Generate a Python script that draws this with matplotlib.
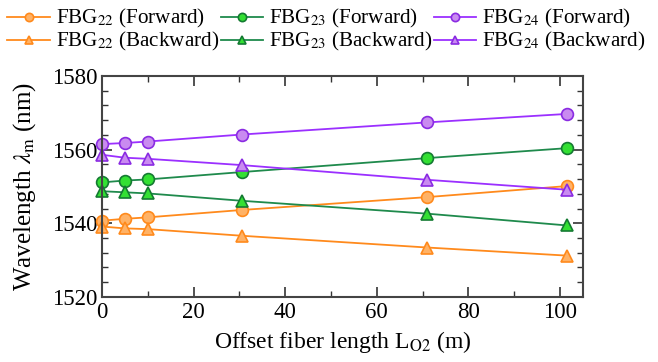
import matplotlib
matplotlib.use("Agg")
import matplotlib.pyplot as plt
from matplotlib.ticker import MultipleLocator

plt.rcParams['font.family'] = ['Liberation Serif', 'DejaVu Serif']
plt.rcParams['mathtext.fontset'] = 'stix'

# offset fiber length (m)
offset_len = [0, 5, 10, 30.5, 71, 101.5]

# centre wavelengths (nm)
fbg22_fwd = [1540.7, 1541.2, 1541.6, 1543.6, 1547.1, 1550.1]
fbg22_bwd = [1539.1, 1538.6, 1538.4, 1536.6, 1533.4, 1531.2]
fbg23_fwd = [1551.1, 1551.6, 1551.9, 1553.9, 1557.7, 1560.4]
fbg23_bwd = [1548.7, 1548.4, 1548.1, 1546.1, 1542.6, 1539.4]
fbg24_fwd = [1561.5, 1561.8, 1562.2, 1564.1, 1567.4, 1569.7]
fbg24_bwd = [1558.6, 1557.8, 1557.5, 1555.8, 1551.8, 1549.1]

labels = ['FBG$_{22}$ (Forward)', 'FBG$_{22}$ (Backward)',
          'FBG$_{23}$ (Forward)', 'FBG$_{23}$ (Backward)',
          'FBG$_{24}$ (Forward)', 'FBG$_{24}$ (Backward)']

series = [fbg22_fwd, fbg22_bwd, fbg23_fwd, fbg23_bwd, fbg24_fwd, fbg24_bwd]
line_colors = ['#ff8a1c', '#ff8a1c', '#1f8a4c', '#1f8a4c', '#9b30ff', '#9b30ff']
face_colors = ['#ffb266', '#ffb266', '#33e033', '#33e033', '#c98bf0', '#c98bf0']
edge_colors = ['#ff8a1c', '#ff8a1c', '#147a32', '#147a32', '#8a2be2', '#8a2be2']
markers = ['o', '^', 'o', '^', 'o', '^']

fig = plt.figure(figsize=(6.58, 3.62), dpi=100)
ax = fig.add_axes([0.155, 0.180, 0.731, 0.610])

for y, lab, lc, fc, ec, m in zip(series, labels, line_colors, face_colors, edge_colors, markers):
    ax.plot(offset_len, y, color=lc, lw=1.3, marker=m, ms=8.5,
            mfc=fc, mec=ec, mew=1.2, label=lab, clip_on=False)

ax.set_xlim(0, 105)
ax.set_ylim(1520, 1580)
ax.xaxis.set_major_locator(MultipleLocator(20))
ax.xaxis.set_minor_locator(MultipleLocator(10))
ax.yaxis.set_major_locator(MultipleLocator(20))
ax.yaxis.set_minor_locator(MultipleLocator(4))
ax.tick_params(which='both', direction='in', top=True, right=True,
               colors='#333333', labelcolor='black', labelsize=16.5)
ax.tick_params(axis='x', pad=4)
ax.tick_params(axis='y', pad=3)
ax.tick_params(which='major', length=7, width=1.2)
ax.tick_params(which='minor', length=4, width=1.0)
for s in ax.spines.values():
    s.set_color('#444444')
    s.set_linewidth(1.5)

ax.set_xlabel('Offset fiber length L$_{\\rm O2}$ (m)', fontsize=17, labelpad=4)
ax.set_ylabel('Wavelength $\\lambda_{\\rm m}$ (nm)', fontsize=18, labelpad=10)

fig.legend(loc='upper left', bbox_to_anchor=(0.0, 1.0), ncol=3, frameon=False,
           fontsize=15.2, handlelength=2.0, handletextpad=0.28, columnspacing=0.1,
           labelspacing=0.0, markerscale=0.7, borderpad=0.15, borderaxespad=0.2)

fig.savefig('out.png', dpi=100)
